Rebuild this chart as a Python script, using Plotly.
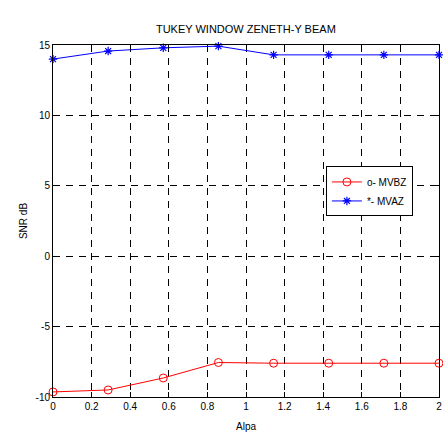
import plotly.graph_objects as go

alpha = [0, 0.2857, 0.5714, 0.8571, 1.1429, 1.4286, 1.7143, 2.0]
mvbz = [-9.64, -9.5, -8.65, -7.55, -7.6, -7.6, -7.6, -7.6]
mvaz = [14.0, 14.57, 14.8, 14.92, 14.3, 14.3, 14.3, 14.3]

x_ticks = [0, 0.2, 0.4, 0.6, 0.8, 1, 1.2, 1.4, 1.6, 1.8, 2]
x_labels = ["0", "0.2", "0.4", "0.6", "0.8", "1", "1.2", "1.4", "1.6", "1.8", "2"]
y_ticks = [-10, -5, 0, 5, 10, 15]
y_labels = ["-10", "-5", "0", "5", "10", "15"]

fig = go.Figure()
fig.add_trace(go.Scatter(
    x=alpha, y=mvbz, mode="lines+markers", name="o- MVBZ", cliponaxis=False,
    line=dict(color="red", width=1),
    marker=dict(symbol="circle-open", size=8, color="red", line=dict(width=1, color="red")),
))
fig.add_trace(go.Scatter(
    x=alpha, y=mvaz, mode="lines+markers", name="*- MVAZ", cliponaxis=False,
    line=dict(color="blue", width=1),
    marker=dict(symbol="asterisk-open", size=7, color="blue", line=dict(width=1.2, color="blue")),
))

axis_common = dict(
    showline=True, linecolor="black", linewidth=1, mirror="ticks",
    ticks="inside", ticklen=5, tickcolor="black",
    showgrid=True, gridcolor="black", gridwidth=1, griddash="7px,6px",
    zeroline=False, ticklabeloverflow="allow",
    tickfont=dict(family="Liberation Sans, Arial", size=10, color="black"),
)

fig.update_xaxes(range=[0, 2], tickvals=x_ticks, ticktext=x_labels,
                 title=dict(text="Alpa", font=dict(family="Liberation Sans, Arial", size=10, color="black"), standoff=11),
                 **axis_common)
fig.update_yaxes(range=[-10, 15], tickvals=y_ticks, ticktext=y_labels,
                 title=dict(text="SNR dB", font=dict(family="Liberation Sans, Arial", size=10, color="black"), standoff=6),
                 **axis_common)

fig.update_layout(
    width=443, height=435,
    margin=dict(l=53, r=1, t=45, b=38),
    paper_bgcolor="white", plot_bgcolor="white",
    title=dict(text="TUKEY WINDOW ZENETH-Y BEAM", x=0.555, xanchor="center", y=0.932, yanchor="middle",
               font=dict(family="Liberation Sans, Arial", size=11, color="black")),
    legend=dict(x=0.707, y=0.655, xanchor="left", yanchor="top",
                bgcolor="white", bordercolor="black", borderwidth=1,
                font=dict(family="Liberation Sans, Arial", size=10, color="black"),
                tracegroupgap=0, itemwidth=30),
    showlegend=True,
)

fig.write_html("out.html", config={"displayModeBar": False},
               post_script="document.body.style.margin='0';document.body.style.overflow='hidden';")
